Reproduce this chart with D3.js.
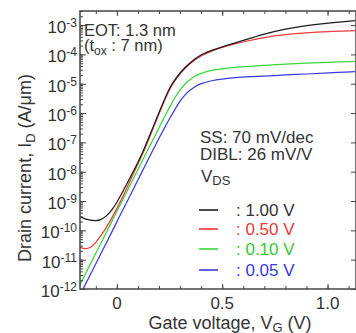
<!DOCTYPE html>
<html><head><meta charset="utf-8">
<script src="https://cdn.jsdelivr.net/npm/d3@7/dist/d3.min.js"></script>
<style>
html,body{margin:0;padding:0;background:#fff;}
svg{display:block;font-family:"Liberation Sans",Arial,Helvetica,sans-serif;}
</style></head>
<body>
<svg id="chart" width="356" height="333"></svg>
<script>
// Gate voltage grid (V)
const vg = [-0.175,-0.15,-0.125,-0.1,-0.075,-0.05,-0.025,0,0.025,0.05,0.075,0.1,0.125,0.15,0.175,0.2,0.225,0.25,0.275,0.3,0.325,0.35,0.375,0.4,0.45,0.5,0.55,0.6,0.7,0.8,0.9,1.0,1.13];
// log10 of drain current (A/um) for each VDS
const logId_100 = [-9.54,-9.61,-9.66,-9.68,-9.64,-9.52,-9.32,-9.05,-8.72,-8.38,-8.03,-7.68,-7.3,-6.86,-6.42,-5.98,-5.55,-5.14,-4.86,-4.63,-4.43,-4.27,-4.13,-4.01,-3.86,-3.74,-3.63,-3.52,-3.3,-3.13,-3.01,-2.93,-2.85];
const logId_050 = [-10.58,-10.64,-10.6,-10.42,-10.18,-9.9,-9.6,-9.25,-8.9,-8.52,-8.12,-7.74,-7.35,-6.92,-6.47,-6.02,-5.59,-5.18,-4.89,-4.66,-4.46,-4.3,-4.16,-4.04,-3.88,-3.76,-3.66,-3.57,-3.42,-3.32,-3.26,-3.22,-3.19];
const logId_010 = [-11.85,-11.5,-11.14,-10.78,-10.43,-10.07,-9.71,-9.36,-9.0,-8.64,-8.28,-7.93,-7.57,-7.21,-6.86,-6.5,-6.15,-5.8,-5.48,-5.2,-4.99,-4.84,-4.72,-4.64,-4.54,-4.49,-4.45,-4.42,-4.37,-4.33,-4.3,-4.27,-4.24];
const logId_005 = [-12.2,-11.85,-11.5,-11.14,-10.78,-10.43,-10.07,-9.71,-9.35,-9.0,-8.64,-8.28,-7.92,-7.57,-7.21,-6.86,-6.52,-6.19,-5.88,-5.58,-5.36,-5.2,-5.08,-4.99,-4.89,-4.84,-4.8,-4.77,-4.74,-4.7,-4.67,-4.63,-4.59];
const seriesNames = [": 1.00 V", ": 0.50 V", ": 0.10 V", ": 0.05 V"];
const seriesColors = ["#1c1c1c", "#ee3a3a", "#38d838", "#3a3ae0"];
const textColors = ["#333333", "#e83a3a", "#30cc30", "#3838dd"];
const yExponents = [-3,-4,-5,-6,-7,-8,-9,-10,-11,-12];
const xTickValues = [0, 0.5, 1.0];
const xTickLabels = ["0", "0.5", "1.0"];

const svg = d3.select("#chart");
const L = 80, R = 356, T = 11, B = 289;
const x = d3.scaleLinear().domain([-0.175, 1.135]).range([L, R]);
const y = d3.scaleLog().domain([1e-12, Math.pow(10, -2.52)]).range([B, T]);
const axisColor = "#454545";
const textColor = "#333";

const defs = svg.append("defs");
defs.append("clipPath").attr("id","clip").append("rect")
  .attr("x", L).attr("y", T).attr("width", R - L).attr("height", B - T);

// curves
const allSeries = [logId_100, logId_050, logId_010, logId_005];
const line = d3.line()
  .x(d => x(d[0])).y(d => y(Math.pow(10, d[1])))
  .curve(d3.curveBasis);
const g = svg.append("g").attr("clip-path", "url(#clip)");
[3,2,1,0].forEach(i => {
  g.append("path")
    .datum(vg.map((v, k) => [v, allSeries[i][k]]))
    .attr("d", line)
    .attr("fill", "none")
    .attr("stroke", seriesColors[i])
    .attr("stroke-width", 1.25);
});

// frame
svg.append("rect").attr("x", L).attr("y", T).attr("width", R - L).attr("height", B - T)
  .attr("fill", "none").attr("stroke", axisColor).attr("stroke-width", 1.5);

// y ticks (inward)
const yMinor = [];
for (let e = -12; e <= -3; e++) for (let m = 1; m <= 9; m++) {
  const v = m * Math.pow(10, e);
  if (v <= Math.pow(10, -2.52)) yMinor.push(v);
}
svg.append("g").attr("transform", `translate(${L},0)`)
  .call(d3.axisRight(y).tickValues(yMinor).tickSize(3).tickFormat(""));
svg.append("g").attr("transform", `translate(${L},0)`)
  .call(d3.axisRight(y).tickValues(yExponents.map(e => Math.pow(10, e))).tickSize(6).tickFormat(""));
svg.append("g").attr("transform", `translate(${R},0)`)
  .call(d3.axisLeft(y).tickValues(yExponents.map(e => Math.pow(10, e))).tickSize(5).tickFormat(""));

// x ticks
const xMinor = d3.range(-1, 12).map(k => k / 10);
svg.append("g").attr("transform", `translate(0,${B})`)
  .call(d3.axisTop(x).tickValues(xMinor).tickSize(3).tickFormat(""));
svg.append("g").attr("transform", `translate(0,${B})`)
  .call(d3.axisTop(x).tickValues(xTickValues).tickSize(5).tickFormat(""));
svg.append("g").attr("transform", `translate(0,${T})`)
  .call(d3.axisBottom(x).tickValues(xMinor).tickSize(3).tickFormat(""));
svg.append("g").attr("transform", `translate(0,${T})`)
  .call(d3.axisBottom(x).tickValues(xTickValues).tickSize(5).tickFormat(""));
svg.selectAll(".domain").remove();
svg.selectAll(".tick line").attr("stroke", axisColor).attr("stroke-width", 1);

// y labels
yExponents.forEach(e => {
  const t = svg.append("text")
    .attr("x", 77).attr("y", y(Math.pow(10, e)) + 8)
    .attr("text-anchor", "end").attr("fill", textColor)
    .style("font-size", "17px");
  t.append("tspan").text("10");
  t.append("tspan").attr("dy", -6).style("font-size", "12px").text(String(e));
});

xTickValues.forEach((v, i) => {
  svg.append("text").attr("x", x(v)).attr("y", 309)
    .attr("text-anchor", "middle").attr("fill", textColor)
    .style("font-size", "17px").text(xTickLabels[i]);
});

// axis titles
const xt2 = svg.append("text").attr("x", 230).attr("y", 329)
  .attr("text-anchor", "middle").attr("fill", textColor).style("font-size", "18px");
xt2.append("tspan").text("Gate voltage, V");
xt2.append("tspan").attr("dy", 3).style("font-size", "13px").text("G");
xt2.append("tspan").attr("dy", -3).text(" (V)");

const yt = svg.append("text").attr("transform", "translate(31,168) rotate(-90)")
  .attr("text-anchor", "middle").attr("fill", textColor).style("font-size", "18px");
yt.append("tspan").text("Drain current, I");
yt.append("tspan").attr("dy", 4).style("font-size", "13px").text("D");
yt.append("tspan").attr("dy", -4).text(" (A/\u03bcm)");

// annotations
svg.append("text").attr("x", 84).attr("y", 36).attr("fill", textColor).style("font-size", "16.5px").text("EOT: 1.3 nm");
const tox = svg.append("text").attr("x", 84).attr("y", 51).attr("fill", textColor).style("font-size", "16.5px");
tox.append("tspan").text("(t");
tox.append("tspan").attr("dy", 4).style("font-size", "12px").text("ox");
tox.append("tspan").attr("dy", -4).text(" : 7 nm)");

svg.append("text").attr("x", 200).attr("y", 143).attr("fill", textColor).style("font-size", "17px").text("SS: 70 mV/dec");
svg.append("text").attr("x", 200).attr("y", 160).attr("fill", textColor).style("font-size", "17px").text("DIBL: 26 mV/V");
const vds = svg.append("text").attr("x", 201).attr("y", 182).attr("fill", textColor).style("font-size", "17px");
vds.append("tspan").text("V");
vds.append("tspan").attr("dy", 3).style("font-size", "13px").text("DS");

// legend
const legY = [210, 229, 249, 270];
seriesNames.forEach((name, i) => {
  svg.append("line").attr("x1", 199).attr("x2", 218).attr("y1", legY[i]).attr("y2", legY[i])
    .attr("stroke", seriesColors[i]).attr("stroke-width", 1.6);
  svg.append("text").attr("x", 236).attr("y", legY[i] + 6).attr("fill", textColors[i])
    .style("font-size", "17px").text(name);
});
</script>
</body></html>
